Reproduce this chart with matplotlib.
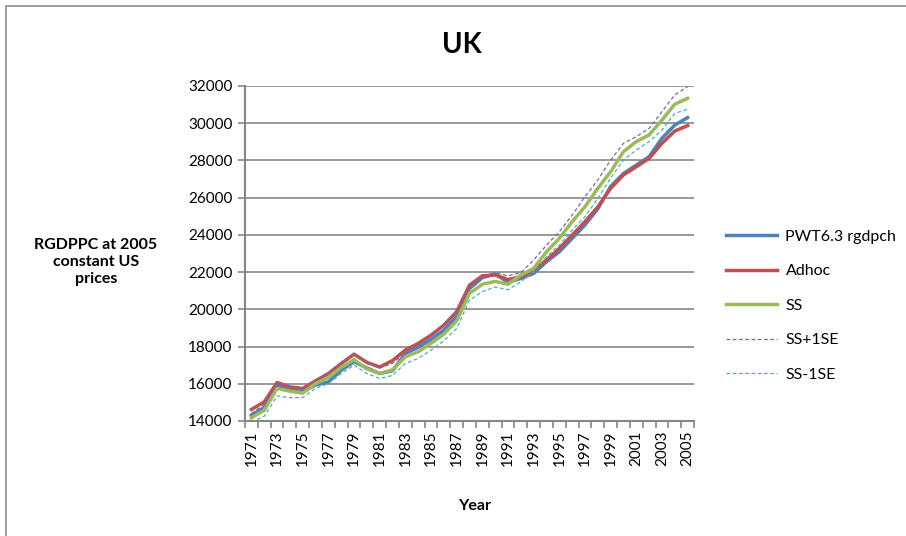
import numpy as np
import matplotlib.pyplot as plt
from matplotlib.patches import Rectangle

plt.rcParams['font.family'] = ['Lato', 'DejaVu Sans']

# data to plot
years = list(range(1971, 2006))
pwt = [14310, 14730, 15870, 15710, 15570, 15930, 16100, 16730, 17180, 16850,
       16550, 16700, 17630, 17960, 18380, 18880, 19600, 21120, 21700, 21900,
       21450, 21660, 21930, 22560, 23090, 23810, 24530, 25400, 26600, 27300,
       27750, 28200, 29190, 29900, 30300]
adhoc = [14620, 15030, 16070, 15830, 15750, 16160, 16550, 17090, 17590, 17150,
         16900, 17250, 17810, 18170, 18610, 19150, 19870, 21300, 21800, 21850,
         21600, 21750, 22110, 22650, 23270, 23990, 24710, 25500, 26500, 27220,
         27660, 28110, 28920, 29580, 29870]
ss = [14170, 14580, 15750, 15600, 15500, 16010, 16340, 16880, 17300, 16800,
      16550, 16750, 17450, 17720, 18170, 18670, 19380, 20850, 21350, 21500,
      21350, 21840, 22200, 23090, 23810, 24710, 25510, 26500, 27390, 28470,
      29010, 29370, 30170, 31020, 31340]
ss_plus = [14400, 14900, 15980, 15850, 15700, 16200, 16550, 17050, 17550, 17100,
           16850, 17100, 17650, 18050, 18550, 19150, 19950, 21200, 21750, 21970,
           21800, 21970, 22650, 23450, 24170, 25060, 26050, 26950, 28020, 28920,
           29280, 29720, 30620, 31520, 31960]
ss_minus = [13950, 14260, 15350, 15250, 15260, 15750, 16010, 16550, 17000, 16550,
            16280, 16450, 17090, 17360, 17810, 18310, 18970, 20490, 20950, 21200,
            21050, 21480, 22020, 22820, 23450, 24260, 24970, 25950, 27050, 28020,
            28560, 29010, 29630, 30530, 30750]

W, H = 906, 536
fig = plt.figure(figsize=(W / 100, H / 100), dpi=100)
fig.patches.append(Rectangle((6 / W, -0.1), 1.1, (H - 6) / H + 0.1,
                             transform=fig.transFigure, fill=False,
                             edgecolor='#8c8c8c', linewidth=1.2))

ax = fig.add_axes([245 / W, 1 - 421 / H, 449 / W, 335 / H])
x = np.arange(len(years))

ax.plot(x, pwt, color='#4F81BD', linewidth=2.5, label='PWT6.3 rgdpch')
ax.plot(x, adhoc, color='#C0504D', linewidth=2.5, label='Adhoc')
ax.plot(x, ss, color='#9BBB59', linewidth=2.5, label='SS')
ax.plot(x, ss_plus, color='#8064A2', linewidth=0.9, linestyle=(0, (3, 2)),
        label='SS+1SE')
ax.plot(x, ss_minus, color='#4BACC6', linewidth=0.9, linestyle=(0, (3, 2)),
        label='SS-1SE')

ax.set_xlim(-0.5, len(years) - 0.5)
ax.set_ylim(14000, 32000)
ax.set_yticks(np.arange(14000, 32001, 2000))
ax.yaxis.grid(True, color='#868686', linewidth=1.2)
ax.set_axisbelow(True)

ax.set_xticks(x[::2])
ax.set_xticklabels([str(y) for y in years[::2]], rotation=90)
ax.set_xticks(np.arange(-0.5, len(years), 1), minor=True)
ax.tick_params(axis='x', which='major', length=0, pad=7, labelsize=11)
ax.tick_params(axis='x', which='minor', length=5, color='#868686', width=1.2)
ax.tick_params(axis='y', length=5, color='#868686', width=1.2, labelsize=11,
               pad=4)

for s in ['top', 'right']:
    ax.spines[s].set_visible(False)
for s in ['left', 'bottom']:
    ax.spines[s].set_color('#868686')
    ax.spines[s].set_linewidth(1.5)

fig.text(462 / W, 1 - 45 / H, 'UK', ha='center', va='center',
         fontsize=20, fontweight='bold')
fig.text(96 / W, 1 - 262 / H, 'RGDPPC at 2005\nconstant US\nprices',
         ha='center', va='center', fontsize=11.5, fontweight='bold',
         linespacing=1.3)
fig.text(475 / W, 1 - 506 / H, 'Year', ha='center', va='center',
         fontsize=11.5, fontweight='bold')

fig.legend(loc='upper left', bbox_to_anchor=(712 / W, 1 - 215 / H),
           frameon=False, fontsize=11.5, handlelength=3.2, handletextpad=0.5,
           labelspacing=1.28)

fig.savefig('out.png', dpi=100)
